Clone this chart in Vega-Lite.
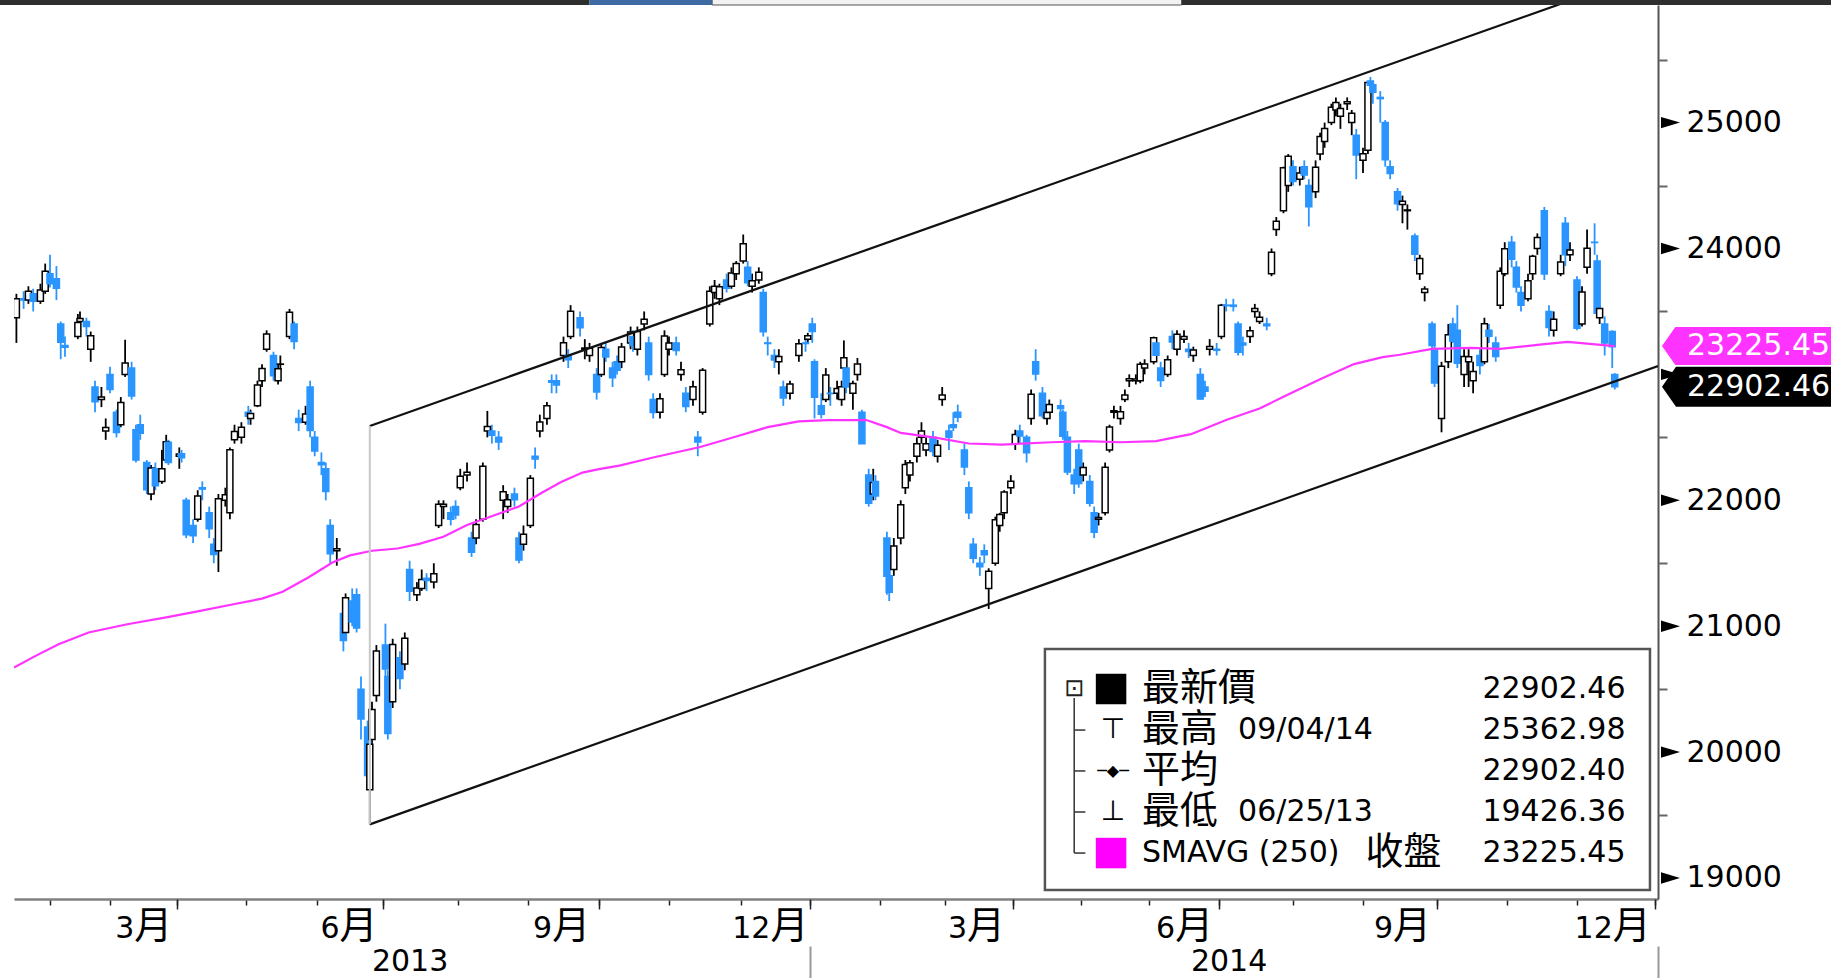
{
  "$schema": "https://vega.github.io/schema/vega-lite/v6.json",
  "width": 1644,
  "height": 894,
  "autosize": {"type": "none"},
  "padding": {"left": 14, "top": 5, "right": 173, "bottom": 79},
  "background": "white",
  "config": {"view": {"stroke": null}, "font": "DejaVu Sans", "axis": {"grid": false, "title": null, "labelOverlap": false, "labelBound": false, "labelFlush": false}},
  "datasets": {
    "ohlc": [
      {"d":"2013-01-18","o":23450,"h":23640,"l":23250,"c":23600},
      {"d":"2013-01-21","o":23600,"h":23660,"l":23520,"c":23590},
      {"d":"2013-01-23","o":23590,"h":23700,"l":23560,"c":23660},
      {"d":"2013-01-25","o":23640,"h":23680,"l":23500,"c":23580},
      {"d":"2013-01-28","o":23580,"h":23720,"l":23560,"c":23670},
      {"d":"2013-01-30","o":23660,"h":23880,"l":23640,"c":23820},
      {"d":"2013-02-01","o":23800,"h":23950,"l":23690,"c":23720},
      {"d":"2013-02-04","o":23760,"h":23860,"l":23590,"c":23685},
      {"d":"2013-02-06","o":23400,"h":23420,"l":23120,"c":23256},
      {"d":"2013-02-08","o":23230,"h":23300,"l":23140,"c":23215},
      {"d":"2013-02-14","o":23300,"h":23480,"l":23280,"c":23413},
      {"d":"2013-02-15","o":23420,"h":23500,"l":23380,"c":23444},
      {"d":"2013-02-18","o":23420,"h":23450,"l":23300,"c":23381},
      {"d":"2013-02-20","o":23200,"h":23340,"l":23100,"c":23307},
      {"d":"2013-02-22","o":22900,"h":22950,"l":22700,"c":22782},
      {"d":"2013-02-25","o":22800,"h":22900,"l":22740,"c":22820},
      {"d":"2013-02-27","o":22550,"h":22650,"l":22480,"c":22578},
      {"d":"2013-03-01","o":23000,"h":23060,"l":22850,"c":22880},
      {"d":"2013-03-04","o":22700,"h":22720,"l":22500,"c":22538},
      {"d":"2013-03-06","o":22600,"h":22820,"l":22580,"c":22777},
      {"d":"2013-03-08","o":23000,"h":23275,"l":22980,"c":23091},
      {"d":"2013-03-11","o":23050,"h":23100,"l":22800,"c":22828},
      {"d":"2013-03-13","o":22560,"h":22600,"l":22300,"c":22319},
      {"d":"2013-03-15","o":22600,"h":22680,"l":22480,"c":22533},
      {"d":"2013-03-18","o":22300,"h":22320,"l":22050,"c":22083},
      {"d":"2013-03-20","o":22050,"h":22280,"l":22000,"c":22256},
      {"d":"2013-03-22","o":22250,"h":22300,"l":22080,"c":22115},
      {"d":"2013-03-25","o":22150,"h":22400,"l":22130,"c":22251},
      {"d":"2013-03-27","o":22320,"h":22520,"l":22300,"c":22464},
      {"d":"2013-03-28","o":22460,"h":22480,"l":22280,"c":22300},
      {"d":"2013-04-02","o":22350,"h":22420,"l":22250,"c":22367},
      {"d":"2013-04-03","o":22370,"h":22400,"l":22300,"c":22337},
      {"d":"2013-04-05","o":22000,"h":22020,"l":21700,"c":21727},
      {"d":"2013-04-08","o":21800,"h":21850,"l":21660,"c":21718},
      {"d":"2013-04-10","o":21850,"h":22080,"l":21830,"c":22035},
      {"d":"2013-04-12","o":22100,"h":22150,"l":22000,"c":22089},
      {"d":"2013-04-15","o":21900,"h":21950,"l":21700,"c":21773},
      {"d":"2013-04-17","o":21650,"h":21700,"l":21500,"c":21569},
      {"d":"2013-04-19","o":21600,"h":22050,"l":21430,"c":22013},
      {"d":"2013-04-22","o":22000,"h":22100,"l":21950,"c":22044},
      {"d":"2013-04-24","o":21900,"h":22420,"l":21850,"c":22401},
      {"d":"2013-04-26","o":22480,"h":22600,"l":22450,"c":22547},
      {"d":"2013-04-29","o":22500,"h":22620,"l":22450,"c":22580},
      {"d":"2013-05-02","o":22700,"h":22750,"l":22600,"c":22668},
      {"d":"2013-05-03","o":22650,"h":22720,"l":22600,"c":22690},
      {"d":"2013-05-06","o":22750,"h":22950,"l":22740,"c":22916},
      {"d":"2013-05-08","o":22950,"h":23080,"l":22900,"c":23047},
      {"d":"2013-05-10","o":23200,"h":23350,"l":23180,"c":23321},
      {"d":"2013-05-13","o":23150,"h":23180,"l":22950,"c":22989},
      {"d":"2013-05-15","o":22950,"h":23080,"l":22920,"c":23044},
      {"d":"2013-05-16","o":23080,"h":23150,"l":23020,"c":23082},
      {"d":"2013-05-20","o":23300,"h":23520,"l":23280,"c":23493},
      {"d":"2013-05-22","o":23400,"h":23420,"l":23200,"c":23261},
      {"d":"2013-05-24","o":22650,"h":22720,"l":22550,"c":22618},
      {"d":"2013-05-27","o":22620,"h":22750,"l":22600,"c":22686},
      {"d":"2013-05-29","o":22900,"h":22950,"l":22500,"c":22554},
      {"d":"2013-05-31","o":22500,"h":22550,"l":22350,"c":22392},
      {"d":"2013-06-03","o":22300,"h":22380,"l":22200,"c":22282},
      {"d":"2013-06-05","o":22250,"h":22300,"l":22000,"c":22069},
      {"d":"2013-06-07","o":21800,"h":21850,"l":21500,"c":21575},
      {"d":"2013-06-10","o":21600,"h":21700,"l":21480,"c":21615},
      {"d":"2013-06-13","o":21100,"h":21150,"l":20800,"c":20887},
      {"d":"2013-06-14","o":20950,"h":21260,"l":20900,"c":21225},
      {"d":"2013-06-17","o":21200,"h":21300,"l":21000,"c":21034},
      {"d":"2013-06-19","o":21250,"h":21300,"l":20950,"c":20986},
      {"d":"2013-06-21","o":20500,"h":20600,"l":20100,"c":20263},
      {"d":"2013-06-24","o":20200,"h":20250,"l":19750,"c":19814},
      {"d":"2013-06-25","o":19700,"h":20150,"l":19426,"c":20063},
      {"d":"2013-06-26","o":20100,"h":20400,"l":20050,"c":20338},
      {"d":"2013-06-28","o":20450,"h":20850,"l":20400,"c":20803},
      {"d":"2013-07-02","o":20850,"h":21020,"l":20600,"c":20659},
      {"d":"2013-07-03","o":20600,"h":20650,"l":20100,"c":20147},
      {"d":"2013-07-05","o":20400,"h":20900,"l":20350,"c":20855},
      {"d":"2013-07-08","o":20750,"h":20800,"l":20500,"c":20585},
      {"d":"2013-07-10","o":20700,"h":20950,"l":20650,"c":20904},
      {"d":"2013-07-12","o":21450,"h":21520,"l":21200,"c":21277},
      {"d":"2013-07-15","o":21250,"h":21350,"l":21200,"c":21303},
      {"d":"2013-07-17","o":21300,"h":21450,"l":21280,"c":21371},
      {"d":"2013-07-19","o":21380,"h":21420,"l":21280,"c":21362},
      {"d":"2013-07-22","o":21350,"h":21500,"l":21300,"c":21416},
      {"d":"2013-07-24","o":21800,"h":22000,"l":21780,"c":21968},
      {"d":"2013-07-26","o":21950,"h":22000,"l":21850,"c":21968},
      {"d":"2013-07-29","o":21900,"h":21950,"l":21800,"c":21850},
      {"d":"2013-07-31","o":21950,"h":22000,"l":21850,"c":21883},
      {"d":"2013-08-02","o":22100,"h":22250,"l":22080,"c":22190},
      {"d":"2013-08-05","o":22200,"h":22300,"l":22150,"c":22222},
      {"d":"2013-08-07","o":21700,"h":21750,"l":21550,"c":21588},
      {"d":"2013-08-09","o":21700,"h":21850,"l":21650,"c":21807},
      {"d":"2013-08-12","o":21850,"h":22300,"l":21830,"c":22271},
      {"d":"2013-08-14","o":22550,"h":22710,"l":22500,"c":22587},
      {"d":"2013-08-16","o":22550,"h":22600,"l":22450,"c":22517},
      {"d":"2013-08-19","o":22500,"h":22550,"l":22400,"c":22463},
      {"d":"2013-08-21","o":22000,"h":22120,"l":21850,"c":22068},
      {"d":"2013-08-23","o":21950,"h":22050,"l":21900,"c":22005},
      {"d":"2013-08-26","o":22050,"h":22100,"l":21950,"c":22005},
      {"d":"2013-08-28","o":21700,"h":21750,"l":21500,"c":21525},
      {"d":"2013-08-30","o":21650,"h":21800,"l":21600,"c":21731},
      {"d":"2013-09-02","o":21800,"h":22200,"l":21780,"c":22175},
      {"d":"2013-09-04","o":22350,"h":22420,"l":22250,"c":22327},
      {"d":"2013-09-06","o":22550,"h":22680,"l":22500,"c":22621},
      {"d":"2013-09-09","o":22650,"h":22780,"l":22600,"c":22750},
      {"d":"2013-09-11","o":22950,"h":23000,"l":22850,"c":22937},
      {"d":"2013-09-13","o":22950,"h":23000,"l":22850,"c":22915},
      {"d":"2013-09-16","o":23150,"h":23300,"l":23100,"c":23252},
      {"d":"2013-09-18","o":23150,"h":23200,"l":23050,"c":23117},
      {"d":"2013-09-19","o":23300,"h":23550,"l":23280,"c":23502},
      {"d":"2013-09-23","o":23450,"h":23500,"l":23300,"c":23371},
      {"d":"2013-09-25","o":23200,"h":23280,"l":23120,"c":23209},
      {"d":"2013-09-27","o":23150,"h":23250,"l":23100,"c":23207},
      {"d":"2013-09-30","o":23000,"h":23050,"l":22800,"c":22860},
      {"d":"2013-10-02","o":23000,"h":23250,"l":22980,"c":23214},
      {"d":"2013-10-04","o":23200,"h":23250,"l":23100,"c":23138},
      {"d":"2013-10-07","o":23050,"h":23100,"l":22900,"c":22974},
      {"d":"2013-10-09","o":23100,"h":23150,"l":23000,"c":23033},
      {"d":"2013-10-11","o":23100,"h":23250,"l":23050,"c":23218},
      {"d":"2013-10-15","o":23250,"h":23380,"l":23200,"c":23336},
      {"d":"2013-10-16","o":23300,"h":23350,"l":23180,"c":23229},
      {"d":"2013-10-18","o":23200,"h":23380,"l":23150,"c":23340},
      {"d":"2013-10-21","o":23400,"h":23500,"l":23350,"c":23438},
      {"d":"2013-10-23","o":23250,"h":23300,"l":22950,"c":22999},
      {"d":"2013-10-25","o":22800,"h":22850,"l":22650,"c":22698},
      {"d":"2013-10-28","o":22700,"h":22850,"l":22650,"c":22807},
      {"d":"2013-10-30","o":23000,"h":23350,"l":22980,"c":23304},
      {"d":"2013-11-01","o":23200,"h":23300,"l":23150,"c":23249},
      {"d":"2013-11-04","o":23250,"h":23300,"l":23150,"c":23189},
      {"d":"2013-11-06","o":23000,"h":23100,"l":22950,"c":23036},
      {"d":"2013-11-08","o":22850,"h":22900,"l":22700,"c":22744},
      {"d":"2013-11-11","o":22800,"h":22950,"l":22750,"c":22901},
      {"d":"2013-11-13","o":22500,"h":22550,"l":22350,"c":22463},
      {"d":"2013-11-15","o":22700,"h":23050,"l":22680,"c":23032},
      {"d":"2013-11-18","o":23400,"h":23700,"l":23380,"c":23660},
      {"d":"2013-11-20","o":23650,"h":23750,"l":23600,"c":23700},
      {"d":"2013-11-22","o":23600,"h":23720,"l":23550,"c":23696},
      {"d":"2013-11-25","o":23750,"h":23800,"l":23650,"c":23684},
      {"d":"2013-11-27","o":23700,"h":23850,"l":23680,"c":23806},
      {"d":"2013-11-29","o":23800,"h":23900,"l":23750,"c":23881},
      {"d":"2013-12-02","o":23900,"h":24111,"l":23880,"c":24038},
      {"d":"2013-12-04","o":23850,"h":23900,"l":23700,"c":23728},
      {"d":"2013-12-06","o":23700,"h":23800,"l":23650,"c":23743},
      {"d":"2013-12-09","o":23750,"h":23850,"l":23720,"c":23811},
      {"d":"2013-12-11","o":23650,"h":23680,"l":23300,"c":23338},
      {"d":"2013-12-13","o":23250,"h":23300,"l":23150,"c":23245},
      {"d":"2013-12-16","o":23150,"h":23200,"l":23050,"c":23114},
      {"d":"2013-12-18","o":23100,"h":23200,"l":23000,"c":23143},
      {"d":"2013-12-20","o":22900,"h":22950,"l":22750,"c":22813},
      {"d":"2013-12-23","o":22850,"h":22950,"l":22800,"c":22924},
      {"d":"2013-12-27","o":23150,"h":23280,"l":23100,"c":23243},
      {"d":"2013-12-30","o":23250,"h":23300,"l":23180,"c":23245},
      {"d":"2013-12-31","o":23280,"h":23330,"l":23250,"c":23306},
      {"d":"2014-01-02","o":23400,"h":23450,"l":23250,"c":23340},
      {"d":"2014-01-03","o":23100,"h":23120,"l":22650,"c":22818},
      {"d":"2014-01-06","o":22750,"h":22850,"l":22650,"c":22684},
      {"d":"2014-01-08","o":22800,"h":23050,"l":22780,"c":22996},
      {"d":"2014-01-10","o":22850,"h":22900,"l":22750,"c":22847},
      {"d":"2014-01-13","o":22850,"h":22950,"l":22800,"c":22888},
      {"d":"2014-01-15","o":22800,"h":22950,"l":22750,"c":22902},
      {"d":"2014-01-16","o":23050,"h":23270,"l":23000,"c":23133},
      {"d":"2014-01-17","o":23050,"h":23100,"l":22850,"c":22900},
      {"d":"2014-01-20","o":22850,"h":22950,"l":22720,"c":22928},
      {"d":"2014-01-22","o":23000,"h":23130,"l":22950,"c":23082},
      {"d":"2014-01-24","o":22700,"h":22720,"l":22450,"c":22450},
      {"d":"2014-01-27","o":22200,"h":22250,"l":21950,"c":21976},
      {"d":"2014-01-29","o":22050,"h":22250,"l":22000,"c":22141},
      {"d":"2014-01-30","o":22150,"h":22200,"l":22000,"c":22035},
      {"d":"2014-02-04","o":21700,"h":21750,"l":21250,"c":21397},
      {"d":"2014-02-05","o":21400,"h":21450,"l":21200,"c":21270},
      {"d":"2014-02-07","o":21450,"h":21700,"l":21400,"c":21636},
      {"d":"2014-02-10","o":21700,"h":22000,"l":21650,"c":21964},
      {"d":"2014-02-12","o":22100,"h":22320,"l":22050,"c":22285},
      {"d":"2014-02-14","o":22200,"h":22320,"l":22150,"c":22298},
      {"d":"2014-02-17","o":22350,"h":22500,"l":22300,"c":22450},
      {"d":"2014-02-19","o":22500,"h":22620,"l":22450,"c":22550},
      {"d":"2014-02-21","o":22400,"h":22500,"l":22350,"c":22450},
      {"d":"2014-02-24","o":22500,"h":22550,"l":22350,"c":22388},
      {"d":"2014-02-26","o":22350,"h":22480,"l":22300,"c":22438},
      {"d":"2014-02-28","o":22800,"h":22900,"l":22750,"c":22837},
      {"d":"2014-03-03","o":22550,"h":22600,"l":22400,"c":22500},
      {"d":"2014-03-05","o":22600,"h":22700,"l":22550,"c":22579},
      {"d":"2014-03-07","o":22700,"h":22760,"l":22620,"c":22660},
      {"d":"2014-03-10","o":22400,"h":22450,"l":22200,"c":22264},
      {"d":"2014-03-12","o":22100,"h":22150,"l":21850,"c":21901},
      {"d":"2014-03-14","o":21650,"h":21700,"l":21500,"c":21539},
      {"d":"2014-03-17","o":21500,"h":21550,"l":21400,"c":21473},
      {"d":"2014-03-19","o":21600,"h":21650,"l":21500,"c":21568},
      {"d":"2014-03-21","o":21300,"h":21460,"l":21137,"c":21436},
      {"d":"2014-03-24","o":21500,"h":21870,"l":21480,"c":21846},
      {"d":"2014-03-26","o":21800,"h":21900,"l":21750,"c":21887},
      {"d":"2014-03-28","o":21900,"h":22080,"l":21850,"c":22065},
      {"d":"2014-03-31","o":22100,"h":22200,"l":22050,"c":22151},
      {"d":"2014-04-02","o":22450,"h":22560,"l":22400,"c":22523},
      {"d":"2014-04-04","o":22550,"h":22600,"l":22450,"c":22510},
      {"d":"2014-04-07","o":22500,"h":22520,"l":22300,"c":22377},
      {"d":"2014-04-09","o":22650,"h":22880,"l":22600,"c":22843},
      {"d":"2014-04-11","o":23100,"h":23200,"l":22950,"c":23003},
      {"d":"2014-04-14","o":22850,"h":22900,"l":22650,"c":22671},
      {"d":"2014-04-16","o":22650,"h":22750,"l":22600,"c":22697},
      {"d":"2014-04-17","o":22700,"h":22800,"l":22650,"c":22760},
      {"d":"2014-04-22","o":22750,"h":22800,"l":22650,"c":22730},
      {"d":"2014-04-23","o":22700,"h":22720,"l":22480,"c":22509},
      {"d":"2014-04-25","o":22500,"h":22550,"l":22200,"c":22224},
      {"d":"2014-04-28","o":22200,"h":22250,"l":22050,"c":22132},
      {"d":"2014-04-30","o":22400,"h":22450,"l":22100,"c":22133},
      {"d":"2014-05-02","o":22200,"h":22300,"l":22150,"c":22261},
      {"d":"2014-05-05","o":22150,"h":22200,"l":21950,"c":21976},
      {"d":"2014-05-07","o":21900,"h":21950,"l":21700,"c":21747},
      {"d":"2014-05-09","o":21850,"h":21900,"l":21800,"c":21863},
      {"d":"2014-05-12","o":21900,"h":22300,"l":21880,"c":22262},
      {"d":"2014-05-14","o":22400,"h":22600,"l":22380,"c":22582},
      {"d":"2014-05-16","o":22700,"h":22750,"l":22650,"c":22712},
      {"d":"2014-05-19","o":22650,"h":22750,"l":22600,"c":22704},
      {"d":"2014-05-21","o":22800,"h":22880,"l":22780,"c":22837},
      {"d":"2014-05-23","o":22950,"h":23000,"l":22900,"c":22965},
      {"d":"2014-05-26","o":22950,"h":23000,"l":22920,"c":22964},
      {"d":"2014-05-28","o":22950,"h":23100,"l":22930,"c":23080},
      {"d":"2014-05-30","o":23050,"h":23120,"l":23000,"c":23082},
      {"d":"2014-06-03","o":23100,"h":23300,"l":23080,"c":23291},
      {"d":"2014-06-04","o":23250,"h":23280,"l":23100,"c":23152},
      {"d":"2014-06-06","o":23050,"h":23100,"l":22900,"c":22951},
      {"d":"2014-06-09","o":23000,"h":23150,"l":22980,"c":23117},
      {"d":"2014-06-11","o":23300,"h":23350,"l":23200,"c":23257},
      {"d":"2014-06-13","o":23200,"h":23350,"l":23150,"c":23319},
      {"d":"2014-06-16","o":23280,"h":23350,"l":23250,"c":23300},
      {"d":"2014-06-18","o":23200,"h":23250,"l":23130,"c":23181},
      {"d":"2014-06-20","o":23150,"h":23220,"l":23100,"c":23194},
      {"d":"2014-06-23","o":23000,"h":23050,"l":22800,"c":22804},
      {"d":"2014-06-25","o":22900,"h":22950,"l":22820,"c":22867},
      {"d":"2014-06-27","o":23200,"h":23280,"l":23150,"c":23221},
      {"d":"2014-06-30","o":23200,"h":23250,"l":23150,"c":23191},
      {"d":"2014-07-02","o":23300,"h":23560,"l":23280,"c":23549},
      {"d":"2014-07-04","o":23550,"h":23600,"l":23500,"c":23546},
      {"d":"2014-07-07","o":23550,"h":23600,"l":23500,"c":23540},
      {"d":"2014-07-09","o":23400,"h":23420,"l":23150,"c":23176},
      {"d":"2014-07-11","o":23250,"h":23300,"l":23150,"c":23233},
      {"d":"2014-07-14","o":23300,"h":23380,"l":23250,"c":23346},
      {"d":"2014-07-16","o":23500,"h":23560,"l":23450,"c":23523},
      {"d":"2014-07-18","o":23420,"h":23500,"l":23400,"c":23454},
      {"d":"2014-07-21","o":23400,"h":23450,"l":23350,"c":23387},
      {"d":"2014-07-23","o":23800,"h":24000,"l":23780,"c":23971},
      {"d":"2014-07-25","o":24150,"h":24250,"l":24100,"c":24216},
      {"d":"2014-07-28","o":24300,"h":24650,"l":24280,"c":24641},
      {"d":"2014-07-30","o":24500,"h":24750,"l":24450,"c":24733},
      {"d":"2014-08-01","o":24650,"h":24700,"l":24500,"c":24532},
      {"d":"2014-08-04","o":24550,"h":24650,"l":24500,"c":24600},
      {"d":"2014-08-06","o":24650,"h":24700,"l":24550,"c":24584},
      {"d":"2014-08-08","o":24500,"h":24550,"l":24175,"c":24331},
      {"d":"2014-08-11","o":24450,"h":24700,"l":24400,"c":24646},
      {"d":"2014-08-13","o":24750,"h":24920,"l":24700,"c":24890},
      {"d":"2014-08-15","o":24850,"h":25000,"l":24800,"c":24954},
      {"d":"2014-08-18","o":25000,"h":25150,"l":24980,"c":25122},
      {"d":"2014-08-20","o":25100,"h":25200,"l":25050,"c":25159},
      {"d":"2014-08-22","o":25050,"h":25150,"l":24950,"c":25112},
      {"d":"2014-08-25","o":25150,"h":25200,"l":25100,"c":25166},
      {"d":"2014-08-27","o":25000,"h":25100,"l":24900,"c":25074},
      {"d":"2014-08-29","o":24900,"h":24950,"l":24550,"c":24742},
      {"d":"2014-09-01","o":24700,"h":24800,"l":24600,"c":24752},
      {"d":"2014-09-03","o":24780,"h":25330,"l":24750,"c":25318},
      {"d":"2014-09-04","o":25330,"h":25362,"l":25200,"c":25297},
      {"d":"2014-09-05","o":25300,"h":25320,"l":25150,"c":25240},
      {"d":"2014-09-08","o":25200,"h":25250,"l":25000,"c":25190},
      {"d":"2014-09-10","o":25000,"h":25020,"l":24650,"c":24705},
      {"d":"2014-09-12","o":24650,"h":24700,"l":24550,"c":24595},
      {"d":"2014-09-15","o":24450,"h":24480,"l":24300,"c":24356},
      {"d":"2014-09-17","o":24350,"h":24420,"l":24200,"c":24376},
      {"d":"2014-09-19","o":24300,"h":24350,"l":24150,"c":24306},
      {"d":"2014-09-22","o":24100,"h":24120,"l":23900,"c":23955},
      {"d":"2014-09-24","o":23800,"h":23950,"l":23750,"c":23921},
      {"d":"2014-09-26","o":23650,"h":23700,"l":23580,"c":23678},
      {"d":"2014-09-29","o":23400,"h":23420,"l":23100,"c":23229},
      {"d":"2014-09-30","o":23200,"h":23250,"l":22900,"c":22932},
      {"d":"2014-10-03","o":22650,"h":23100,"l":22540,"c":23064},
      {"d":"2014-10-06","o":23100,"h":23400,"l":23050,"c":23315},
      {"d":"2014-10-08","o":23400,"h":23450,"l":23250,"c":23264},
      {"d":"2014-10-10","o":23350,"h":23550,"l":23050,"c":23089},
      {"d":"2014-10-13","o":23000,"h":23200,"l":22900,"c":23143},
      {"d":"2014-10-15","o":23100,"h":23200,"l":22900,"c":23140},
      {"d":"2014-10-17","o":22950,"h":23100,"l":22850,"c":23023},
      {"d":"2014-10-20","o":23150,"h":23200,"l":23000,"c":23070},
      {"d":"2014-10-22","o":23100,"h":23450,"l":23080,"c":23403},
      {"d":"2014-10-24","o":23350,"h":23400,"l":23250,"c":23302},
      {"d":"2014-10-27","o":23250,"h":23300,"l":23100,"c":23143},
      {"d":"2014-10-29","o":23550,"h":23850,"l":23520,"c":23820},
      {"d":"2014-10-31","o":23800,"h":24050,"l":23780,"c":23998},
      {"d":"2014-11-03","o":24050,"h":24100,"l":23850,"c":23915},
      {"d":"2014-11-05","o":23850,"h":23900,"l":23650,"c":23695},
      {"d":"2014-11-07","o":23650,"h":23700,"l":23500,"c":23550},
      {"d":"2014-11-10","o":23600,"h":23800,"l":23580,"c":23744},
      {"d":"2014-11-12","o":23800,"h":23950,"l":23750,"c":23938},
      {"d":"2014-11-14","o":24000,"h":24120,"l":23950,"c":24087},
      {"d":"2014-11-17","o":24300,"h":24330,"l":23750,"c":23797},
      {"d":"2014-11-19","o":23500,"h":23550,"l":23300,"c":23373},
      {"d":"2014-11-21","o":23350,"h":23500,"l":23300,"c":23437},
      {"d":"2014-11-24","o":23800,"h":23950,"l":23780,"c":23893},
      {"d":"2014-11-26","o":24200,"h":24250,"l":23860,"c":23950},
      {"d":"2014-11-28","o":23950,"h":24050,"l":23900,"c":23987},
      {"d":"2014-12-01","o":23750,"h":23780,"l":23350,"c":23367},
      {"d":"2014-12-03","o":23400,"h":23700,"l":23380,"c":23654},
      {"d":"2014-12-05","o":23850,"h":24150,"l":23800,"c":24002},
      {"d":"2014-12-08","o":24050,"h":24200,"l":23950,"c":24047},
      {"d":"2014-12-09","o":23900,"h":23950,"l":23500,"c":23485},
      {"d":"2014-12-10","o":23450,"h":23550,"l":23400,"c":23524},
      {"d":"2014-12-12","o":23400,"h":23460,"l":23150,"c":23249},
      {"d":"2014-12-15","o":23340,"h":23350,"l":23050,"c":23220},
      {"d":"2014-12-16","o":23000,"h":23010,"l":22880,"c":22902}
    ],
    "sma": [
      {"d":"2013-01-17","v":20672},{"d":"2013-01-26","v":20764},{"d":"2013-02-05","v":20857},{"d":"2013-02-19","v":20950},
      {"d":"2013-03-09","v":21015},{"d":"2013-03-27","v":21070},{"d":"2013-04-10","v":21117},{"d":"2013-04-25","v":21172},
      {"d":"2013-05-08","v":21219},{"d":"2013-05-17","v":21274},{"d":"2013-05-28","v":21385},{"d":"2013-06-08","v":21506},
      {"d":"2013-06-16","v":21562},{"d":"2013-06-26","v":21599},{"d":"2013-07-07","v":21617},{"d":"2013-07-16","v":21654},
      {"d":"2013-07-26","v":21710},{"d":"2013-08-05","v":21803},{"d":"2013-08-15","v":21867},{"d":"2013-08-28","v":21951},
      {"d":"2013-09-07","v":22062},{"d":"2013-09-15","v":22145},{"d":"2013-09-24","v":22220},{"d":"2013-10-01","v":22247},
      {"d":"2013-10-10","v":22275},{"d":"2013-10-25","v":22340},{"d":"2013-11-14","v":22423},{"d":"2013-11-29","v":22507},
      {"d":"2013-12-13","v":22581},{"d":"2013-12-27","v":22627},{"d":"2014-01-09","v":22637},{"d":"2014-01-26","v":22637},
      {"d":"2014-02-04","v":22581},{"d":"2014-02-10","v":22535},{"d":"2014-02-25","v":22498},{"d":"2014-03-12","v":22451},
      {"d":"2014-03-27","v":22442},{"d":"2014-04-18","v":22461},{"d":"2014-05-03","v":22470},{"d":"2014-05-19","v":22461},
      {"d":"2014-06-04","v":22470},{"d":"2014-06-19","v":22525},{"d":"2014-07-04","v":22637},{"d":"2014-07-18","v":22729},
      {"d":"2014-07-28","v":22822},{"d":"2014-08-13","v":22961},{"d":"2014-08-28","v":23082},{"d":"2014-09-09","v":23137},
      {"d":"2014-09-16","v":23156},{"d":"2014-09-29","v":23202},{"d":"2014-10-16","v":23211},{"d":"2014-10-29","v":23202},
      {"d":"2014-11-16","v":23239},{"d":"2014-11-27","v":23258},{"d":"2014-12-16","v":23225}
    ],
    "channel": [
      {"k":"upper","d":"2013-06-25","p":22590},{"k":"upper","d":"2015-01-02","p":26217},
      {"k":"lower","d":"2013-06-25","p":19426},{"k":"lower","d":"2015-01-02","p":23066}
    ],
    "legend": [
      {"i":1,"n":"最新價","t":"","s":"","n2":"","g":"","v":"22902.46","p":20501},
      {"i":2,"n":"最高","t":"09/04/14","s":"","n2":"","g":"⊤","v":"25362.98","p":20175},
      {"i":3,"n":"平均","t":"","s":"","n2":"","g":"─◆─","v":"22902.40","p":19850},
      {"i":4,"n":"最低","t":"06/25/13","s":"","n2":"","g":"⊥","v":"19426.36","p":19524},
      {"i":5,"n":"","t":"","s":"SMAVG (250)","n2":"收盤","g":"","v":"23225.45","p":19198}
    ],
    "tags": [
      {"k":"sma","v":23225.45,"t":"23225.45"},
      {"k":"last","v":22902.46,"t":"22902.46"}
    ],
    "yticks": [{"v":19000},{"v":20000},{"v":21000},{"v":22000},{"v":23000},{"v":24000},{"v":25000}]
  },
  "layer": [
    {
      "data": {"name": "ohlc", "format": {"parse": {"d": "date"}}},
      "mark": {"type": "rule", "strokeWidth": 1.8, "clip": true},
      "encoding": {
        "x": {
          "field": "d", "type": "quantitative",
          "scale": {
            "type": "linear", "nice": false, "zero": false, "padding": 0,
            "domain": [1358380800000,1359676800000,1362096000000,1364774400000,1367366400000,1370044800000,1372636800000,1375315200000,1377993600000,1380585600000,1383264000000,1385856000000,1388534400000,1391212800000,1393632000000,1396310400000,1398902400000,1401580800000,1404172800000,1406851200000,1409529600000,1412121600000,1414800000000,1417392000000,1420070400000,1420156800000],
            "range": [0,36,96,163,232,303,369,444,514,585,655,727,796,866,930.5,999,1067,1135,1205,1279,1349,1423,1493,1563,1641,1644]
          },
          "axis": {
            "orient": "bottom",
            "values": [1359676800000,1362096000000,1364774400000,1367366400000,1370044800000,1372636800000,1375315200000,1377993600000,1380585600000,1383264000000,1385856000000,1388534400000,1391212800000,1393632000000,1396310400000,1398902400000,1401580800000,1404172800000,1406851200000,1409529600000,1412121600000,1414800000000,1417392000000,1420070400000],
            "tickSize": 6, "tickWidth": 1.5, "tickColor": "#222", "labels": false,
            "domain": true, "domainColor": "#808080", "domainWidth": 2.5
          }
        },
        "y": {
          "field": "l", "type": "quantitative",
          "scale": {"domain": [18833, 25934], "nice": false, "zero": false},
          "axis": {
            "orient": "right", "values": [19000,20000,21000,22000,24000,25000],
            "ticks": false, "tickSize": 0, "labelPadding": 28, "format": "d",
            "labelFont": "DejaVu Sans", "labelFontSize": 30, "labelColor": "#000",
            "labelBaseline": "middle", "labelAlign": "left",
            "domain": true, "domainColor": "#555", "domainWidth": 2
          }
        },
        "y2": {"field": "h"},
        "color": {"condition": {"test": "datum.c >= datum.o", "value": "#000"}, "value": "#2a95ff"}
      }
    },
    {
      "data": {"name": "ohlc", "format": {"parse": {"d": "date"}}},
      "mark": {"type": "bar", "width": 6, "strokeWidth": 1.5, "clip": true},
      "encoding": {
        "x": {
          "field": "d", "type": "quantitative",
          "axis": {
            "orient": "bottom",
            "values": [1364774400000,1372636800000,1380585600000,1388534400000,1396310400000,1404172800000,1412121600000,1420070400000],
            "tickSize": 10, "tickWidth": 1.5, "tickColor": "#222", "labels": false, "domain": false
          }
        },
        "y": {
          "field": "o", "type": "quantitative",
          "axis": {
            "orient": "right", "values": [19500,20500,21500,22500,23500,24500,25500],
            "tickSize": 9, "tickWidth": 2, "tickColor": "#666", "labels": false, "domain": false
          }
        },
        "y2": {"field": "c"},
        "fill": {"condition": {"test": "datum.c >= datum.o", "value": "#ffffff"}, "value": "#2a95ff"},
        "stroke": {"condition": {"test": "datum.c >= datum.o", "value": "#000"}, "value": "#2a95ff"}
      }
    },
    {
      "data": {"name": "sma", "format": {"parse": {"d": "date"}}},
      "mark": {"type": "line", "color": "#ff33ff", "strokeWidth": 2.2, "clip": true},
      "encoding": {
        "x": {
          "field": "d", "type": "quantitative",
          "axis": {
            "orient": "bottom",
            "values": [1363046400000,1370908800000,1378857600000,1386979200000,1394496000000,1402531200000,1410566400000,1418601600000],
            "ticks": false, "tickSize": 0, "domain": false,
            "labelExpr": "'' + (utcmonth(datum.value) + 1)",
            "labelAlign": "right", "labelBaseline": "alphabetic", "labelPadding": 38,
            "labelFont": "DejaVu Sans", "labelFontSize": 30, "labelColor": "#000"
          }
        },
        "y": {"field": "v", "type": "quantitative", "axis": null}
      }
    },
    {
      "data": {"name": "channel", "format": {"parse": {"d": "date"}}},
      "mark": {"type": "line", "color": "#111", "strokeWidth": 2.2, "clip": true},
      "encoding": {
        "x": {
          "field": "d", "type": "quantitative",
          "axis": {
            "orient": "bottom",
            "values": [1363046400000,1370908800000,1378857600000,1386979200000,1394496000000,1402531200000,1410566400000,1418601600000],
            "ticks": false, "tickSize": 0, "domain": false,
            "labelExpr": "'月'",
            "labelAlign": "left", "labelBaseline": "alphabetic", "labelPadding": 38,
            "labelFont": "Noto Sans CJK TC", "labelFontSize": 38, "labelColor": "#000"
          }
        },
        "y": {"field": "p", "type": "quantitative", "axis": null},
        "detail": {"field": "k"}
      }
    },
    {
      "data": {"values": [{}]},
      "mark": {"type": "rule", "color": "#c8c8c8", "strokeWidth": 2},
      "encoding": {
        "x": {
          "datum": 1372118400000,
          "axis": {
            "orient": "bottom",
            "values": [1373587200000,1404518400000],
            "ticks": false, "tickSize": 0, "domain": false,
            "labelExpr": "'' + utcyear(datum.value)",
            "labelAlign": "center", "labelBaseline": "alphabetic", "labelPadding": 71,
            "labelFont": "DejaVu Sans", "labelFontSize": 30, "labelColor": "#000"
          }
        },
        "y": {"datum": 19426, "axis": null},
        "y2": {"datum": 22590}
      }
    },
    {
      "data": {"values": [{}]},
      "mark": {"type": "rect", "fill": "#ffffff", "stroke": "#555", "strokeWidth": 2.5},
      "encoding": {
        "x": {
          "datum": 1397527200000,
          "axis": {
            "orient": "bottom", "offset": 47,
            "values": [1388534400000,1420156800000],
            "tickSize": 32, "tickWidth": 2, "tickColor": "#999", "labels": false, "domain": false
          }
        },
        "x2": {"datum": 1419897600000},
        "y": {"datum": 20819, "axis": null},
        "y2": {"datum": 18904}
      }
    },
    {
      "data": {"values": [{}]},
      "mark": {"type": "rule", "color": "#333", "strokeWidth": 1.5},
      "encoding": {
        "x": {"datum": 1398643200000, "axis": null},
        "y": {"datum": 20430, "axis": null},
        "y2": {"datum": 19198}
      }
    },
    {
      "data": {"name": "legend"},
      "transform": [{"filter": "datum.i >= 2"}],
      "mark": {"type": "rule", "color": "#333", "strokeWidth": 1.5},
      "encoding": {
        "x": {"datum": 1398643200000, "axis": null},
        "x2": {"datum": 1399075200000},
        "y": {"field": "p", "type": "quantitative", "axis": null}
      }
    },
    {
      "data": {"name": "legend"},
      "transform": [{"filter": "datum.i == 1"}],
      "mark": {"type": "text", "font": "DejaVu Sans", "fontSize": 24, "align": "center", "baseline": "middle", "color": "#222"},
      "encoding": {
        "x": {"datum": 1398643200000, "axis": null},
        "y": {"field": "p", "type": "quantitative", "axis": null},
        "text": {"value": "⊡"}
      }
    },
    {
      "data": {"name": "legend"},
      "transform": [{"filter": "datum.i == 1 || datum.i == 5"}],
      "mark": {"type": "point", "shape": "square", "filled": true, "size": 930, "opacity": 1},
      "encoding": {
        "x": {"datum": 1400086800000, "axis": null},
        "y": {"field": "p", "type": "quantitative", "axis": null},
        "color": {"condition": {"test": "datum.i == 1", "value": "#000"}, "value": "#ff00ff"}
      }
    },
    {
      "data": {"name": "legend"},
      "mark": {"type": "text", "font": "DejaVu Sans", "align": "center", "baseline": "middle", "color": "#000"},
      "encoding": {
        "x": {"datum": 1400162400000, "axis": null},
        "y": {"field": "p", "type": "quantitative", "axis": null},
        "text": {"field": "g"},
        "size": {"condition": {"test": "datum.i == 3", "value": 16}, "value": 28}
      }
    },
    {
      "data": {"name": "legend"},
      "mark": {"type": "text", "font": "Noto Sans CJK TC", "fontSize": 38, "align": "left", "baseline": "middle", "color": "#000"},
      "encoding": {
        "x": {"datum": 1401303600000, "axis": null},
        "y": {"field": "p", "type": "quantitative", "axis": null},
        "text": {"field": "n"}
      }
    },
    {
      "data": {"name": "legend"},
      "mark": {"type": "text", "font": "Noto Sans CJK TC", "fontSize": 38, "align": "left", "baseline": "middle", "color": "#000"},
      "encoding": {
        "x": {"datum": 1409616000000, "axis": null},
        "y": {"field": "p", "type": "quantitative", "axis": null},
        "text": {"field": "n2"}
      }
    },
    {
      "data": {"name": "legend"},
      "mark": {"type": "text", "font": "DejaVu Sans", "fontSize": 30, "align": "left", "baseline": "middle", "color": "#000"},
      "encoding": {
        "x": {"datum": 1404864000000, "axis": null},
        "y": {"field": "p", "type": "quantitative", "axis": null},
        "text": {"field": "t"}
      }
    },
    {
      "data": {"name": "legend"},
      "mark": {"type": "text", "font": "DejaVu Sans", "fontSize": 30, "align": "left", "baseline": "middle", "color": "#000"},
      "encoding": {
        "x": {"datum": 1401303600000, "axis": null},
        "y": {"field": "p", "type": "quantitative", "axis": null},
        "text": {"field": "s"}
      }
    },
    {
      "data": {"name": "legend"},
      "mark": {"type": "text", "font": "DejaVu Sans", "fontSize": 30, "align": "right", "baseline": "middle", "color": "#000"},
      "encoding": {
        "x": {"datum": 1419058800000, "axis": null},
        "y": {"field": "p", "type": "quantitative", "axis": null},
        "text": {"field": "v"}
      }
    },
    {
      "data": {"name": "yticks"},
      "mark": {"type": "point", "shape": "M-1,-0.6L1,0L-1,0.6Z", "filled": true, "size": 361, "color": "#000", "opacity": 1, "clip": false},
      "encoding": {
        "x": {"datum": 1420516800000, "axis": null},
        "y": {"field": "v", "type": "quantitative", "axis": null}
      }
    },
    {
      "data": {"name": "tags"},
      "transform": [{"filter": "datum.k == 'sma'"}],
      "mark": {"type": "point", "shape": "M0,0L0.7,-1L12,-1L12,1L0.7,1Z", "filled": true, "size": 1444, "color": "#ff33ff", "opacity": 1, "clip": false},
      "encoding": {
        "x": {"datum": 1420272000000, "axis": null},
        "y": {"field": "v", "type": "quantitative", "axis": null}
      }
    },
    {
      "data": {"name": "tags"},
      "transform": [{"filter": "datum.k == 'last'"}],
      "mark": {"type": "point", "shape": "M0,0L0.7,-1L12,-1L12,1L0.7,1Z", "filled": true, "size": 1600, "color": "#000", "opacity": 1, "clip": false},
      "encoding": {
        "x": {"datum": 1420272000000, "axis": null},
        "y": {"field": "v", "type": "quantitative", "axis": null}
      }
    },
    {
      "data": {"name": "tags"},
      "mark": {"type": "text", "font": "DejaVu Sans", "fontSize": 30, "align": "left", "baseline": "middle", "dx": 25, "color": "#ffffff", "clip": false},
      "encoding": {
        "x": {"datum": 1420272000000, "axis": null},
        "y": {"field": "v", "type": "quantitative", "axis": null},
        "text": {"field": "t"}
      }
    },
    {
      "data": {"values": [{}]},
      "mark": {"type": "rect", "fill": "#2e2e2e", "clip": false},
      "encoding": {
        "x": {"datum": 1356998400000, "axis": null},
        "x2": {"datum": 1380240000000},
        "y": {"datum": 25934, "axis": null},
        "y2": {"datum": 26000}
      }
    },
    {
      "data": {"values": [{}]},
      "mark": {"type": "rect", "fill": "#3d6aa3", "clip": false},
      "encoding": {
        "x": {"datum": 1380240000000, "axis": null},
        "x2": {"datum": 1384819200000},
        "y": {"datum": 25934, "axis": null},
        "y2": {"datum": 26000}
      }
    },
    {
      "data": {"values": [{}]},
      "mark": {"type": "rect", "fill": "#f2f2f2", "stroke": "#555", "strokeWidth": 1, "clip": false},
      "encoding": {
        "x": {"datum": 1384819200000, "axis": null},
        "x2": {"datum": 1402790400000},
        "y": {"datum": 25934, "axis": null},
        "y2": {"datum": 26000}
      }
    },
    {
      "data": {"values": [{}]},
      "mark": {"type": "rect", "fill": "#2e2e2e", "clip": false},
      "encoding": {
        "x": {"datum": 1402790400000, "axis": null},
        "x2": {"datum": 1427846400000},
        "y": {"datum": 25934, "axis": null},
        "y2": {"datum": 26000}
      }
    }
  ],
  "resolve": {"axis": {"x": "independent", "y": "independent"}}
}
